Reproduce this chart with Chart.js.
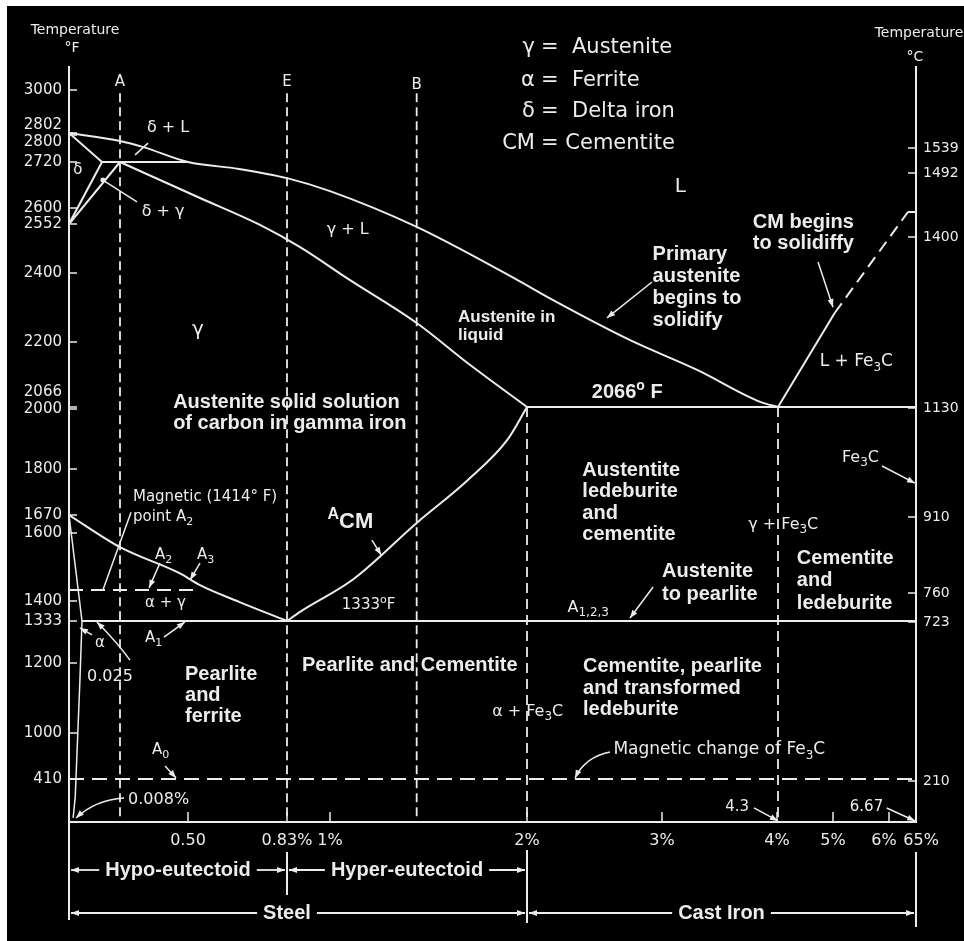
<!DOCTYPE html>
<html>
<head>
<meta charset="utf-8">
<title>Iron-carbon phase diagram</title>
<script src="https://cdn.jsdelivr.net/npm/chart.js@4.4.1/dist/chart.umd.min.js"></script>
<style>
  html, body { margin: 0; padding: 0; background: #000; overflow: hidden; }
  canvas { display: block; }
</style>
</head>
<body>
<canvas id="phaseChart" width="964" height="941"></canvas>
<script>
// boundaries: carbon % (C) and temperature in deg F (F)
const liquidusC = [0, 0.18, 0.29, 0.5, 0.67, 0.83, 1.0, 1.44, 1.95, 2.19, 2.76, 3.31, 3.86, 4.3];
const liquidusF = [2802, 2782, 2764, 2720, 2702, 2678, 2644, 2543, 2380, 2322, 2206, 2142, 2076, 2066];
const solidusC = [0.18, 0.54, 0.74, 0.88, 1.10, 1.44, 1.71, 2.0];
const solidusF = [2720, 2626, 2549, 2481, 2380, 2255, 2153, 2066];
const deltaSolidusC = [0, 0.1];
const deltaSolidusF = [2802, 2720];
const peritecticC = [0.1, 0.5];
const peritecticF = [2720, 2720];
const deltaLowC = [0, 0.1];
const deltaLowF = [2552, 2720];
const gammaTopC = [0, 0.18];
const gammaTopF = [2552, 2720];
const acmC = [0.83, 0.88, 1.12, 1.44, 1.70, 1.90, 2.0];
const acmF = [1333, 1363, 1450, 1639, 1769, 1897, 2066];
const a3C = [0, 0.18, 0.46, 0.54, 0.67, 0.83];
const a3F = [1670, 1554, 1469, 1430, 1397, 1333];
const alphaC = [0, 0.025];
const alphaF = [1670, 1333];
const solvusC = [0.025, 0.021, 0.012, 0.008];
const solvusF = [1333, 1151, 240, 40];
const a1C = [0.025, 6.67];
const a1F = [1333, 1333];
const eutecticC = [2, 6.67];
const eutecticF = [2066, 2066];
const cmLiquidusC = [4.3, 5.03];
const cmLiquidusF = [2066, 2284];
const cmDashC = [5.03, 6.47];
const cmDashF = [2284, 2588];
const cmStubC = [6.47, 6.67];
const cmStubF = [2588, 2588];
const a2C = [0, 0.54];
const a2F = [1414, 1414];
const fe3cMagC = [0, 6.67];
const fe3cMagF = [410, 410];
const guideC = [0.18, 0.83, 1.44];     // dashed lines A, E, B
const guideTopF = 2985;
const castGuideC = [2, 4.3];           // dashed lines below the eutectic
const castGuideTopF = 2066;

// tick labels
const fTicks = [3000, 2802, 2800, 2720, 2600, 2552, 2400, 2200, 2066, 2000, 1800, 1670, 1600, 1400, 1333, 1200, 1000, 410];
const fTickLabels = ['3000', ['2802', ''], ['', '2800'], '2720', '2600', '2552', '2400', '2200', ['2066', '', ''], '2000',
  '1800', '1670', '1600', '1400', '1333', '1200', '1000', '410'];
const cTicks = [1539, 1492, 1400, 1130, 910, 760, 723, 210];
const cTickLabels = ['1539', '1492', '1400', '1130', '910', '760', '723', '210'];
const xTicks = [0.5, 0.83, 1, 2, 3, 4, 5, 6, 6.67];
const xTickLabels = ['0.50', '0.83%', '1%', '2%', '3%', '4%', '5%', '6%  ', '  65%'];

// the printed axes are not linear, so each scale gets value -> place marks
const xAxisMarks = [[0, 69], [0.025, 82], [0.1, 102], [0.18, 120], [0.5, 188], [0.83, 287], [1, 330], [2, 527],
  [3, 662], [4, 777], [4.3, 778], [5, 833], [6, 889], [6.67, 916]];
const fAxisMarks = [[0, 822], [410, 779], [1000, 733], [1200, 663], [1333, 621], [1400, 601], [1414, 590], [1600, 533],
  [1670, 515], [1800, 469], [2000, 409], [2066, 407], [2200, 342], [2400, 273], [2552, 224], [2600, 208], [2720, 162],
  [2800, 135], [2802, 133], [3000, 90], [3100, 67]];
const cAxisMarks = [[0, 822], [210, 781], [723, 622], [760, 593], [910, 517], [1130, 408], [1400, 237], [1492, 173],
  [1539, 148], [1690, 67]];

const INK = '#ececec';
const THIN = 'DejaVu Sans';
const BOLD = 'Liberation Sans';

const toFraction = (marks, p0, p1) => marks.map(([v, p]) => [v, (p - p0) / (p1 - p0)]);
const scaleMaps = {
  x: toFraction(xAxisMarks, 69, 916),
  y: toFraction(fAxisMarks, 822, 67),
  yC: toFraction(cAxisMarks, 822, 67)
};

function interp(pts, v, inverse) {
  const a = inverse ? 1 : 0, b = inverse ? 0 : 1;
  let i = 1;
  while (i < pts.length - 1 && v > pts[i][a]) i++;
  const p = pts[i - 1], q = pts[i];
  return p[b] + (v - p[a]) * (q[b] - p[b]) / (q[a] - p[a]);
}

class PiecewiseScale extends Chart.LinearScale {
  getPixelForValue(value) {
    if (value === null || value === undefined || isNaN(value)) return NaN;
    return this.getPixelForDecimal(interp(scaleMaps[this.id], value, false));
  }
  getValueForPixel(pixel) {
    return interp(scaleMaps[this.id], this.getDecimalForPixel(pixel), true);
  }
}
PiecewiseScale.id = 'piecewise';
PiecewiseScale.defaults = {};
Chart.register(PiecewiseScale);

function line(xs, ys, extra) {
  return Object.assign({
    data: xs.map((x, i) => ({ x: x, y: ys[i] })),
    showLine: true,
    borderColor: INK,
    borderWidth: 2,
    pointRadius: 0,
    pointHoverRadius: 0,
    tension: 0
  }, extra || {});
}

const curve = { cubicInterpolationMode: 'monotone' };
const datasets = [
  line(liquidusC, liquidusF, curve),
  line(solidusC, solidusF, curve),
  line(deltaSolidusC, deltaSolidusF),
  line(peritecticC, peritecticF),
  line(deltaLowC, deltaLowF),
  line(gammaTopC, gammaTopF),
  line(acmC, acmF, curve),
  line(a3C, a3F, curve),
  line(alphaC, alphaF, { borderWidth: 1.5 }),
  line(solvusC, solvusF, { borderWidth: 1.5 }),
  line(a1C, a1F),
  line(eutecticC, eutecticF),
  line(cmLiquidusC, cmLiquidusF),
  line(cmDashC, cmDashF, { borderDash: [12, 7] }),
  line(cmStubC, cmStubF),
  line(a2C, a2F, { borderDash: [14, 8] }),
  line(fe3cMagC, fe3cMagF, { borderDash: [15, 8] })
];
guideC.forEach(c => datasets.push(line([c, c], [guideTopF, 0], { borderDash: [9, 5], borderWidth: 1.8 })));
castGuideC.forEach(c => datasets.push(line([c, c], [castGuideTopF, 0], { borderDash: [10, 6], borderWidth: 1.8 })));

// text on the diagram, placed in data units (x = %C, y = deg F)
const notes = [
  { x: 0.18, y: 3035, text: ['A'], size: 15, align: 'center' },
  { x: 0.83, y: 3035, text: ['E'], size: 15, align: 'center' },
  { x: 1.44, y: 3022, text: ['B'], size: 15, align: 'center' },
  { x: 2.059, y: 3183, text: ['γ'], size: 21, align: 'right' },
  { x: 2.104, y: 3183, text: ['=  Austenite'], size: 21 },
  { x: 2.059, y: 3043, text: ['α'], size: 21, align: 'right' },
  { x: 2.104, y: 3043, text: ['=  Ferrite'], size: 21 },
  { x: 2.059, y: 2899, text: ['δ'], size: 21, align: 'right' },
  { x: 2.104, y: 2899, text: ['=  Delta iron'], size: 21 },
  { x: 2.059, y: 2776, text: ['CM'], size: 21, align: 'right' },
  { x: 2.104, y: 2776, text: ['= Cementite'], size: 21 },
  { x: 3.16, y: 2655, text: ['L'], size: 20, align: 'center' },
  { x: 0.406, y: 2825, text: ['δ + L'], size: 16, align: 'center' },
  { x: 0.017, y: 2699, text: ['δ'], size: 15, align: 'center' },
  { x: 0.383, y: 2588, text: ['δ + γ'], size: 16, align: 'center' },
  { x: 1.09, y: 2533, text: ['γ + L'], size: 16, align: 'center' },
  { x: 0.533, y: 2235, text: ['γ'], size: 20, align: 'center' },
  { x: 0.43, y: 2076, text: ['Austenite solid solution', 'of carbon in gamma iron'], size: 20, bold: true, lh: 21 },
  { x: 1.65, y: 2272, text: ['Austenite in', 'liquid'], size: 17, bold: true, lh: 18 },
  { x: 2.93, y: 2456, text: ['Primary', 'austenite', 'begins to', 'solidify'], size: 20, bold: true, lh: 22 },
  { x: 3.79, y: 2558, text: ['CM begins', 'to solidiffy'], size: 20, bold: true, lh: 21 },
  { x: 4.83, y: 2159, text: ['L + Fe_{3}C'], size: 17 },
  { x: 2.48, y: 2095, text: ['2066^{o} F'], size: 20, bold: true },
  { x: 2.41, y: 1797, text: ['Austentite', 'ledeburite', 'and', 'cementite'], size: 20, bold: true, lh: 21.5 },
  { x: 3.75, y: 1631, text: ['γ + Fe_{3}C'], size: 16 },
  { x: 5.16, y: 1837, text: ['Fe_{3}C'], size: 16 },
  { x: 4.54, y: 1518, text: ['Cementite', 'and', 'ledeburite'], size: 20, bold: true, lh: 22.5 },
  { x: 3.0, y: 1473, text: ['Austenite', 'to pearlite'], size: 20, bold: true, lh: 23 },
  { x: 2.30, y: 1377, text: ['A_{1,2,3}'], size: 16 },
  { x: 1.06, y: 1387, text: ['1333^{o}F'], size: 15 },
  { x: 0.99, y: 1643, text: ['^{A}CM'], size: 22, bold: true },
  { x: 0.241, y: 1721, text: ['Magnetic (1414° F)', 'point A_{2}'], size: 15, lh: 20 },
  { x: 0.345, y: 1528, text: ['A_{2}'], size: 15 },
  { x: 0.53, y: 1528, text: ['A_{3}'], size: 15 },
  { x: 0.298, y: 1393, text: ['α + γ'], size: 15 },
  { x: 0.0925, y: 1263, text: ['α'], size: 15, align: 'center' },
  { x: 0.298, y: 1279, text: ['A_{1}'], size: 15 },
  { x: 0.044, y: 1160, text: ['0.025'], size: 16 },
  { x: 0.486, y: 1166, text: ['Pearlite', 'and', 'ferrite'], size: 20, bold: true, lh: 21 },
  { x: 0.889, y: 1194, text: ['Pearlite and Cementite'], size: 20, bold: true },
  { x: 1.823, y: 1060, text: ['α + Fe_{3}C'], size: 16 },
  { x: 2.415, y: 1189, text: ['Cementite, pearlite', 'and transformed', 'ledeburite'], size: 20, bold: true, lh: 21.5 },
  { x: 0.331, y: 782, text: ['A_{0}'], size: 15 },
  { x: 2.64, y: 782, text: ['Magnetic change of Fe_{3}C'], size: 17 },
  { x: 0.218, y: 210, text: ['0.008%'], size: 16 },
  { x: 3.55, y: 143, text: ['4.3'], size: 15 },
  { x: 5.30, y: 143, text: ['6.67'], size: 15 }
];

// leader lines and small arrows, same data units
const leaders = [
  { from: [0.251, 2741], to: [0.312, 2776] },
  { from: [0.104, 2673], to: [0.26, 2616], dot: true },
  { from: [2.926, 2374], to: [2.593, 2270], head: true },
  { from: [4.81, 2434], to: [5.0, 2301], head: true },
  { from: [5.875, 1810], to: [6.645, 1760], head: true },
  { from: [1.213, 1577], to: [1.26, 1528], head: true },
  { from: [0.232, 1678], to: [0.104, 1414] },
  { from: [0.368, 1502], to: [0.317, 1421], head: true },
  { from: [0.54, 1502], to: [0.507, 1447], head: true },
  { from: [0.387, 1282], to: [0.486, 1330], head: true },
  { from: [0.0625, 1289], to: [0.021, 1311], head: true },
  { from: [0.227, 1209], via: [0.171, 1263], to: [0.081, 1330], head: true },
  { from: [0.199, 229], via: [0.074, 210], to: [0.0135, 38], head: true },
  { from: [0.392, 578], to: [0.444, 424], head: true },
  { from: [2.934, 1424], to: [2.763, 1343], head: true },
  { from: [2.615, 757], via: [2.43, 693], to: [2.356, 424], head: true },
  { from: [3.80, 134], to: [4.28, 10], head: true },
  { from: [5.96, 134], to: [6.65, 10], head: true }
];

function parseRich(s) {
  const out = [];
  const re = /([_^])\{([^}]*)\}|([^_^]+)/g;
  let m;
  while ((m = re.exec(s))) {
    if (m[3]) out.push({ t: m[3], k: 0 });
    else out.push({ t: m[2], k: m[1] === '_' ? 1 : -1 });
  }
  return out;
}

function drawRich(ctx, s, x, y, size, bold, align) {
  const segs = parseRich(s);
  const fontFor = k => (bold ? 'bold ' : '') + (k ? Math.round(size * 0.72) : size) + 'px "' + (bold ? BOLD : THIN) + '"';
  let w = 0;
  segs.forEach(g => { ctx.font = fontFor(g.k); g.w = ctx.measureText(g.t).width; w += g.w; });
  let cx = align === 'center' ? x - w / 2 : align === 'right' ? x - w : x;
  ctx.textAlign = 'left';
  ctx.textBaseline = 'middle';
  segs.forEach(g => {
    ctx.font = fontFor(g.k);
    ctx.fillText(g.t, cx, y + g.k * size * 0.33);
    cx += g.w;
  });
  return w;
}

function arrowHead(ctx, fx, fy, tx, ty) {
  const a = Math.atan2(ty - fy, tx - fx), len = 8, half = 3;
  ctx.beginPath();
  ctx.moveTo(tx, ty);
  ctx.lineTo(tx - len * Math.cos(a) + half * Math.sin(a), ty - len * Math.sin(a) - half * Math.cos(a));
  ctx.lineTo(tx - len * Math.cos(a) - half * Math.sin(a), ty - len * Math.sin(a) + half * Math.cos(a));
  ctx.closePath();
  ctx.fill();
}

function segment(ctx, x1, y1, x2, y2) {
  ctx.beginPath();
  ctx.moveTo(x1, y1);
  ctx.lineTo(x2, y2);
  ctx.stroke();
}

const overlay = {
  id: 'overlay',
  beforeDraw(chart) {
    const { ctx, width, height } = chart;
    ctx.save();
    ctx.fillStyle = '#fff';
    ctx.fillRect(0, 0, width, height);
    ctx.fillStyle = '#000';
    ctx.fillRect(7, 6, width, height);
    ctx.restore();
  },
  afterDraw(chart) {
    const { ctx, chartArea: ca } = chart;
    const sx = chart.scales.x, sy = chart.scales.y, sc = chart.scales.yC;
    const px = v => sx.getPixelForValue(v), py = v => sy.getPixelForValue(v);
    ctx.save();
    ctx.strokeStyle = INK;
    ctx.fillStyle = INK;

    // tick marks point into the plot
    ctx.lineWidth = 1.5;
    ctx.beginPath();
    sy.ticks.forEach(t => { const p = py(t.value); ctx.moveTo(ca.left, p); ctx.lineTo(ca.left + 8, p); });
    sc.ticks.forEach(t => { const p = sc.getPixelForValue(t.value); ctx.moveTo(ca.right - 8, p); ctx.lineTo(ca.right, p); });
    sx.ticks.forEach(t => { const p = px(t.value); ctx.moveTo(p, ca.bottom); ctx.lineTo(p, ca.bottom - 10); });
    ctx.stroke();

    // axis captions
    drawRich(ctx, 'Temperature', ca.left + 6, ca.top - 37, 14, false, 'center');
    drawRich(ctx, '°F', ca.left + 3, ca.top - 19, 14, false, 'center');
    drawRich(ctx, 'Temperature', ca.right + 3, ca.top - 34, 14, false, 'center');
    drawRich(ctx, '°C', ca.right - 1, ca.top - 10, 14, false, 'center');

    // labels
    notes.forEach(n => {
      const x = px(n.x), y = py(n.y);
      n.text.forEach((t, i) => drawRich(ctx, t, x, y + i * (n.lh || 0), n.size, n.bold, n.align || 'left'));
    });

    // leaders
    ctx.lineWidth = 1.5;
    leaders.forEach(l => {
      const fx = px(l.from[0]), fy = py(l.from[1]), tx = px(l.to[0]), ty = py(l.to[1]);
      ctx.beginPath();
      ctx.moveTo(fx, fy);
      let bx = fx, by = fy;
      if (l.via) {
        bx = px(l.via[0]); by = py(l.via[1]);
        ctx.quadraticCurveTo(bx, by, tx, ty);
      } else {
        ctx.lineTo(tx, ty);
      }
      ctx.stroke();
      if (l.head) arrowHead(ctx, bx, by, tx, ty);
      if (l.dot) { ctx.beginPath(); ctx.arc(fx, fy, 2.5, 0, Math.PI * 2); ctx.fill(); }
    });

    // steel / cast iron ranges under the axis
    const b = ca.bottom;
    const x0 = px(0), xE = px(0.83), x2 = px(2), xEnd = px(6.67);
    ctx.lineWidth = 2;
    segment(ctx, x0, b, x0, b + 98);
    segment(ctx, xE, b + 30, xE, b + 73);
    segment(ctx, x2, b + 28, x2, b + 101);
    segment(ctx, xEnd, b + 30, xEnd, b + 105);
    const span = (a, c, yy, label, mid) => {
      const cx = mid === undefined ? (a + c) / 2 : mid;
      ctx.font = 'bold 20px "' + BOLD + '"';
      const w = ctx.measureText(label).width;
      drawRich(ctx, label, cx, yy, 20, true, 'center');
      ctx.lineWidth = 1.8;
      segment(ctx, a + 2, yy, cx - w / 2 - 6, yy);
      arrowHead(ctx, a + 12, yy, a + 2, yy);
      segment(ctx, cx + w / 2 + 6, yy, c - 2, yy);
      arrowHead(ctx, c - 12, yy, c - 2, yy);
    };
    span(x0, xE, b + 48, 'Hypo-eutectoid');
    span(xE, x2, b + 48, 'Hyper-eutectoid');
    span(x0, x2, b + 91, 'Steel', xE);
    span(x2, xEnd, b + 91, 'Cast Iron');
    ctx.restore();
  }
};

const tickFont = { family: THIN, size: 15, lineHeight: 1.0 };

new Chart(document.getElementById('phaseChart'), {
  type: 'scatter',
  data: { datasets: datasets },
  options: {
    responsive: false,
    animation: false,
    events: [],
    layout: { padding: { top: 67, left: 0, right: 0, bottom: 0 } },
    plugins: { legend: { display: false }, tooltip: { enabled: false } },
    scales: {
      x: {
        type: 'piecewise',
        position: 'bottom',
        min: 0,
        max: 6.67,
        grid: { display: false, drawTicks: false },
        border: { display: true, color: INK, width: 2 },
        afterBuildTicks: s => { s.ticks = xTicks.map(v => ({ value: v })); },
        afterFit: s => { s.height = 119; },
        ticks: {
          autoSkip: false, maxRotation: 0, padding: 9, color: INK,
          font: { family: THIN, size: 16 },
          callback: (v, i) => xTickLabels[i]
        }
      },
      y: {
        type: 'piecewise',
        position: 'left',
        min: 0,
        max: 3100,
        grid: { display: false, drawTicks: false },
        border: { display: true, color: INK, width: 2 },
        afterBuildTicks: s => { s.ticks = fTicks.map(v => ({ value: v })); },
        afterFit: s => { s.width = 69; },
        ticks: {
          autoSkip: false, padding: 7, color: INK, font: tickFont,
          callback: (v, i) => fTickLabels[i]
        }
      },
      yC: {
        type: 'piecewise',
        position: 'right',
        min: 0,
        max: 1690,
        grid: { display: false, drawTicks: false },
        border: { display: true, color: INK, width: 2 },
        afterBuildTicks: s => { s.ticks = cTicks.map(v => ({ value: v })); },
        afterFit: s => { s.width = 48; },
        ticks: {
          autoSkip: false, padding: 7, color: INK,
          font: { family: THIN, size: 14, lineHeight: 1.0 },
          callback: (v, i) => cTickLabels[i]
        }
      }
    }
  },
  plugins: [overlay]
});
</script>
</body>
</html>
